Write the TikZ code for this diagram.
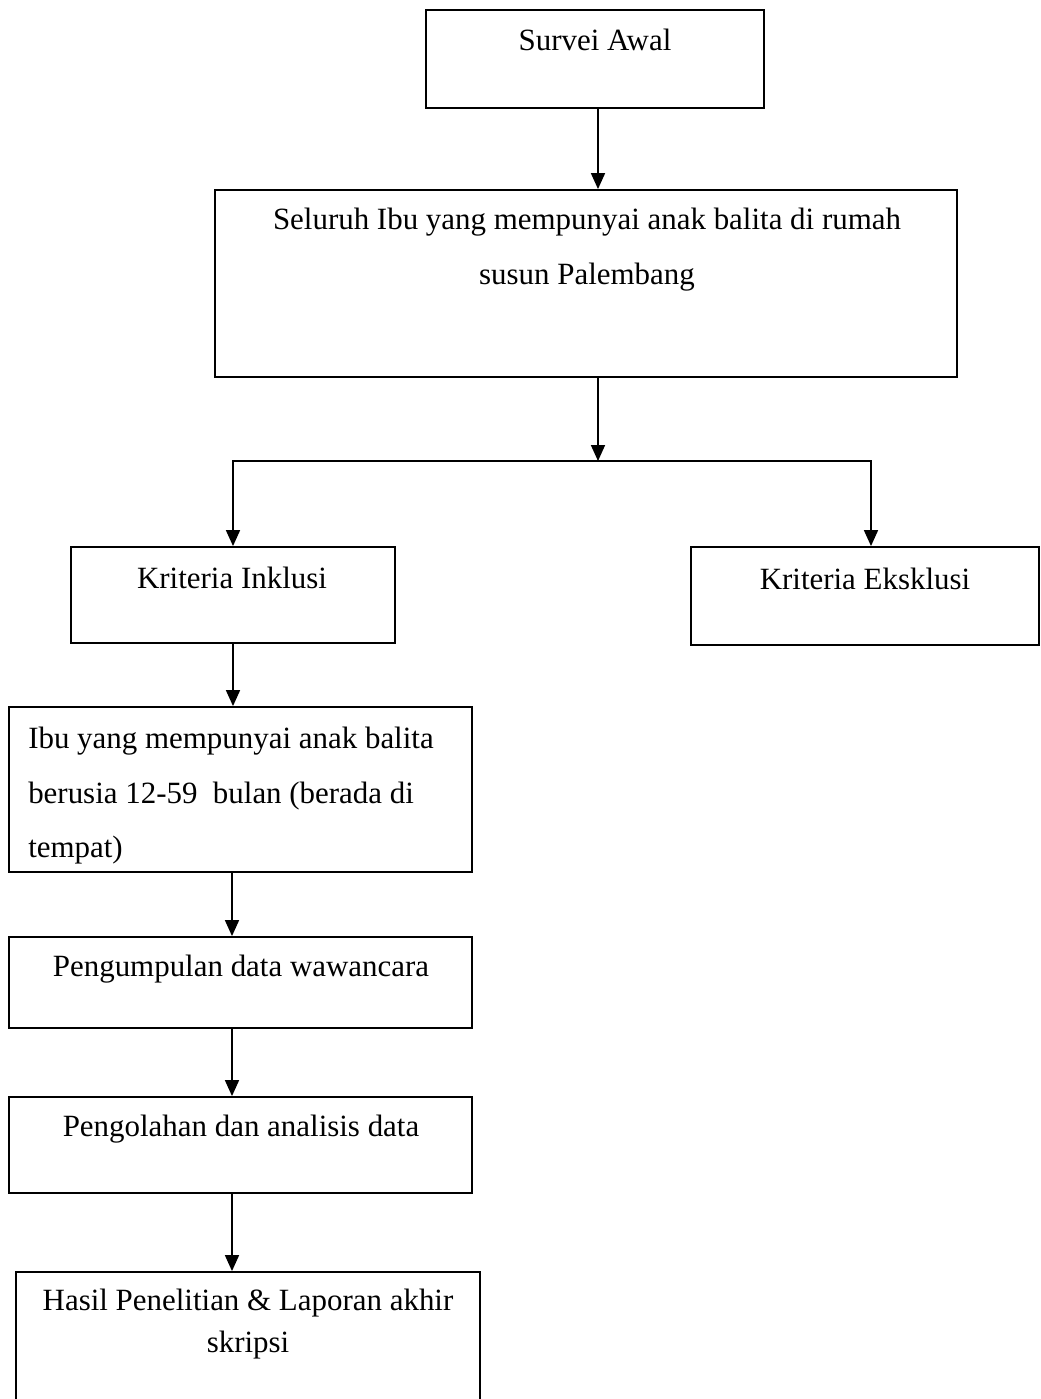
\documentclass[tikz,border=0pt]{standalone}
\usepackage{fontspec}
\setmainfont{Liberation Serif}
\usetikzlibrary{fit,arrows.meta}
\begin{document}
\begin{tikzpicture}[x=0.75pt,y=-0.75pt,
  box/.style={draw, line width=1.4pt, inner sep=0pt, rectangle},
  lbl/.style={anchor=base, inner sep=0pt, font=\fontsize{23.2}{41}\selectfont},
  lblw/.style={anchor=base west, inner sep=0pt, font=\fontsize{23.2}{41}\selectfont},
  arr/.style={line width=1.3pt, -{Triangle[length=12pt,width=10.5pt]}}]
\clip (0,0) rectangle (1041,1399);
\useasboundingbox (0,0) rectangle (1041,1399);

% boxes
\node[box, fit={(426,10)(764,108)}] (sv) {};
\node[box, fit={(215,190)(957,377)}] (sel) {};
\node[box, fit={(71,547)(395,643)}] (ink) {};
\node[box, fit={(691,547)(1039,645)}] (eks) {};
\node[box, fit={(9,707)(472,872)}] (ibu) {};
\node[box, fit={(9,937)(472,1028)}] (pen) {};
\node[box, fit={(9,1097)(472,1193)}] (olah) {};
\node[box, fit={(16,1272)(480,1430)}] (has) {};

% texts
\node[lbl] (t1) at (595,50) {Survei Awal};
\node[lbl] (t2) at (587,229) {Seluruh Ibu yang mempunyai anak balita di rumah};
\node[lbl] (t3) at (587,284) {susun Palembang};
\node[lbl] (t4) at (232,588) {Kriteria Inklusi};
\node[lbl] (t5) at (865,589) {Kriteria Eksklusi};
\node[lblw] (t6) at (28,748) {Ibu yang mempunyai anak balita};
\node[lblw] (t7) at (28,803) {berusia 12-59\ \ bulan (berada di};
\node[lblw] (t8) at (28,857) {tempat)};
\node[lbl] (t9) at (241,976) {Pengumpulan data wawancara};
\node[lbl] (t10) at (241,1136) {Pengolahan dan analisis data};
\node[lbl] (t11) at (248,1310) {Hasil Penelitian \& Laporan akhir};
\node[lbl] (t12) at (248,1352) {skripsi};

% connector helpers
\coordinate (c1) at (598,0);
\coordinate (br) at (598,461);
\coordinate (c3) at (871,0);
\coordinate (c4) at (232,0);

\draw[arr] (sv.south -| c1) -- (sel.north -| c1);
\draw[arr] (sel.south -| c1) -- (br);
\draw[arr] (br) -| (ink.north);
\draw[arr] (br) -| (eks.north -| c3);
\draw[arr] (ink.south) -- (ibu.north -| ink.south);
\draw[arr] (ibu.south -| c4) -- (pen.north -| c4);
\draw[arr] (pen.south -| c4) -- (olah.north -| c4);
\draw[arr] (olah.south -| c4) -- (has.north -| c4);
\end{tikzpicture}
\end{document}
